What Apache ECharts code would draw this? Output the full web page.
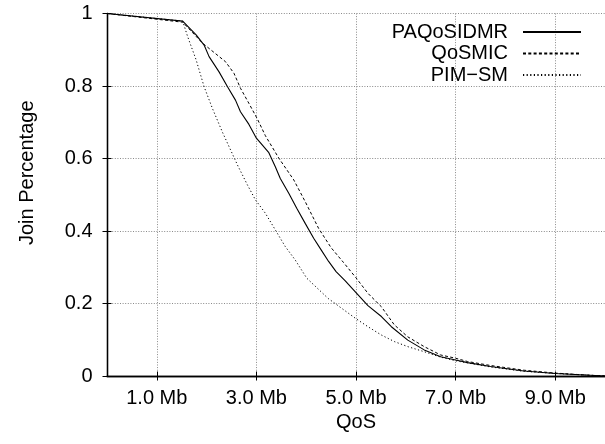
<!DOCTYPE html>
<html>
<head>
<meta charset="utf-8">
<script src="https://cdn.jsdelivr.net/npm/echarts@6/dist/echarts.min.js"></script>
<style>html,body{margin:0;padding:0;background:#fff}#c{width:605px;height:444px}</style>
</head>
<body>
<div id="c"></div>
<script>
// ---- data ----
const seriesNames = ['PAQoSIDMR', 'QoSMIC', 'PIM\u2212SM'];
const xTickValues = [1, 3, 5, 7, 9];
const yTickValues = [0, 0.2, 0.4, 0.6, 0.8, 1];

const paqosX = [0, 1.52, 1.79, 1.95, 2.05, 2.25, 2.42, 2.58, 2.68, 2.85, 3.0, 3.25, 3.38, 3.48, 3.65, 3.81, 3.98, 4.15, 4.3, 4.45, 4.6, 4.78, 5.0, 5.24, 5.51, 5.71, 6.04, 6.37, 6.70, 7.0, 7.24, 7.7, 8.37, 9.0, 9.7, 10];
const paqosY = [1.0, 0.979, 0.941, 0.913, 0.881, 0.839, 0.798, 0.761, 0.729, 0.694, 0.656, 0.616, 0.577, 0.545, 0.504, 0.463, 0.421, 0.380, 0.348, 0.316, 0.288, 0.263, 0.230, 0.194, 0.164, 0.136, 0.099, 0.072, 0.053, 0.044, 0.037, 0.026, 0.014, 0.007, 0.002, 0.0];

const qosmicX = [0, 1.52, 1.92, 2.38, 2.55, 2.68, 2.85, 3.02, 3.18, 3.45, 3.75, 3.98, 4.25, 4.5, 4.75, 5.0, 5.24, 5.51, 5.77, 6.04, 6.37, 6.70, 7.0, 7.24, 7.7, 8.37, 9.0, 9.7, 10];
const qosmicY = [1.0, 0.976, 0.918, 0.867, 0.835, 0.794, 0.752, 0.709, 0.663, 0.601, 0.541, 0.481, 0.407, 0.354, 0.313, 0.271, 0.228, 0.191, 0.141, 0.108, 0.081, 0.058, 0.049, 0.040, 0.029, 0.016, 0.008, 0.002, 0.0];

const pimX = [0, 1.52, 1.62, 1.79, 1.95, 2.12, 2.32, 2.62, 2.82, 2.98, 3.18, 3.38, 3.58, 3.78, 4.01, 4.44, 4.71, 4.99, 5.24, 5.51, 5.77, 6.04, 6.37, 6.7, 7.0, 7.7, 8.37, 9.0, 9.7, 10];
const pimY = [1.0, 0.979, 0.936, 0.872, 0.798, 0.737, 0.672, 0.582, 0.527, 0.486, 0.449, 0.403, 0.357, 0.320, 0.270, 0.214, 0.187, 0.159, 0.136, 0.113, 0.095, 0.081, 0.067, 0.052, 0.042, 0.025, 0.013, 0.007, 0.002, 0.0];

// ---- chart ----
const FONT = "'Liberation Sans', Arial, Helvetica, sans-serif";
const zip = (xs, ys) => xs.map((x, i) => [x, ys[i]]);
const gridLine = { show: true, lineStyle: { color: '#8a8a8a', width: 1, type: [1, 1.6] } };
const axisLineStyle = { show: true, lineStyle: { color: '#000', width: 1.3 } };

const chart = echarts.init(document.getElementById('c'), null, { renderer: 'canvas' });
chart.setOption({
  animation: false,
  backgroundColor: '#fff',
  textStyle: { fontFamily: FONT },
  grid: { left: 107, top: 13.5, width: 501.5, height: 362.5, containLabel: false },
  legend: {
    orient: 'vertical',
    right: 23,
    top: 21.5,
    padding: 0,
    align: 'right',
    itemGap: 0.5,
    itemWidth: 58,
    itemHeight: 8,
    itemStyle: { color: 'rgba(0,0,0,0)', borderColor: 'rgba(0,0,0,0)', borderWidth: 0, opacity: 0 },
    formatter: n => '{t|' + n + '}',
    textStyle: { fontFamily: FONT, fontSize: 20, color: '#000', lineHeight: 21,
      rich: { t: { fontFamily: FONT, fontSize: 20, color: '#000', lineHeight: 21, padding: [0, 10, 0, 0] } } },
    data: seriesNames
  },
  xAxis: [{
    type: 'value', position: 'bottom', min: 0, max: 10,
    name: 'QoS', nameLocation: 'middle', nameGap: 35.5,
    nameTextStyle: { fontFamily: FONT, fontSize: 20, color: '#000' },
    axisLine: axisLineStyle,
    axisTick: { show: true, inside: true, length: 4.5, customValues: xTickValues, lineStyle: { color: '#000', width: 1 } },
    axisLabel: { show: true, customValues: xTickValues, margin: 12, fontFamily: FONT, fontSize: 20, color: '#000',
      formatter: v => v.toFixed(1) + ' Mb' },
    splitLine: gridLine
  }, {
    type: 'value', position: 'top', min: 0, max: 10,
    axisLine: axisLineStyle,
    axisTick: { show: true, inside: true, length: 4.5, customValues: xTickValues, lineStyle: { color: '#000', width: 1 } },
    axisLabel: { show: false },
    splitLine: { show: false }
  }],
  yAxis: [{
    type: 'value', position: 'left', min: 0, max: 1, interval: 0.2,
    name: 'Join Percentage', nameLocation: 'middle', nameGap: 70, nameRotate: 90,
    nameTextStyle: { fontFamily: FONT, fontSize: 20, color: '#000', padding: [0, 0, 0, 44] },
    axisLine: axisLineStyle,
    axisTick: { show: true, inside: true, length: 4.5, lineStyle: { color: '#000', width: 1 } },
    axisLabel: { show: true, margin: 14.5, fontFamily: FONT, fontSize: 20, color: '#000' },
    splitLine: gridLine
  }, {
    type: 'value', position: 'right', min: 0, max: 1, interval: 0.2,
    axisLine: axisLineStyle,
    axisTick: { show: true, inside: true, length: 4.5, lineStyle: { color: '#000', width: 1 } },
    axisLabel: { show: false },
    splitLine: { show: false }
  }],
  series: [
    { name: seriesNames[0], type: 'line', xAxisIndex: 0, yAxisIndex: 0, data: zip(paqosX, paqosY),
      symbol: 'none', showSymbol: false, color: '#000', lineStyle: { color: '#000', width: 1.1, type: 'solid' }, z: 5 },
    { name: seriesNames[1], type: 'line', xAxisIndex: 0, yAxisIndex: 0, data: zip(qosmicX, qosmicY),
      symbol: 'none', showSymbol: false, color: '#000', lineStyle: { color: '#000', width: 1, type: [3, 2.3] }, z: 4 },
    { name: seriesNames[2], type: 'line', xAxisIndex: 0, yAxisIndex: 0, data: zip(pimX, pimY),
      symbol: 'none', showSymbol: false, color: '#000', lineStyle: { color: '#000', width: 1, type: [1.2, 2.4] }, z: 3 }
  ]
});
</script>
</body>
</html>
